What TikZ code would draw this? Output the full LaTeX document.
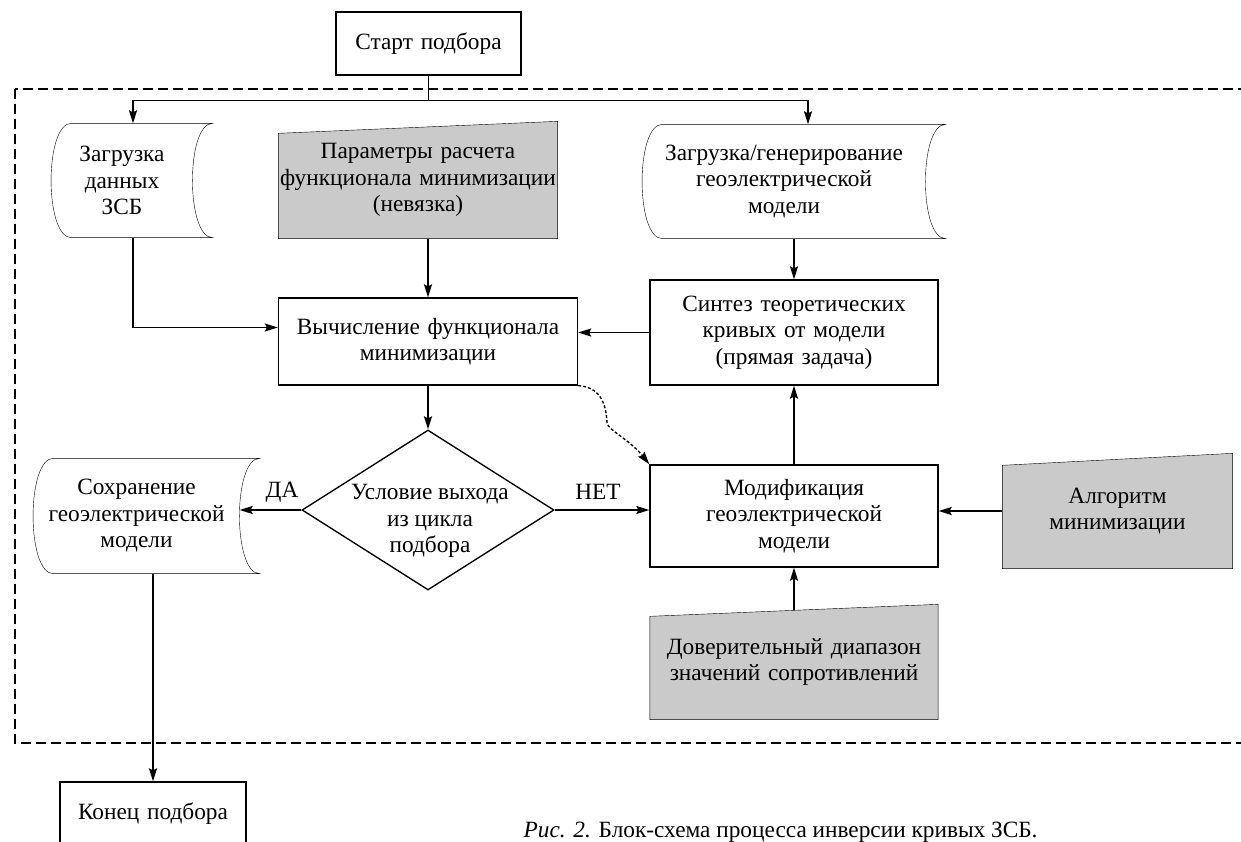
\documentclass[tikz,border=0pt]{standalone}
\usepackage{fontspec}
\setmainfont{Liberation Serif}
\usetikzlibrary{arrows.meta,shapes.geometric,backgrounds}
\definecolor{Shade}{HTML}{CACACA}

% stored data outline round a node (body = node box)
\newcommand{\storpath}[1]{%
  \draw ([xshift=20pt]#1.north west) -- ([xshift=20pt]#1.north east)
    .. controls ([xshift=-7pt]#1.north east) and ([xshift=-7pt]#1.south east) .. ([xshift=20pt]#1.south east)
    -- ([xshift=20pt]#1.south west)
    .. controls ([xshift=-7pt]#1.south west) and ([xshift=-7pt]#1.north west) .. ([xshift=20pt]#1.north west) -- cycle;}
% manual input outline (slanted top)
\newcommand{\manpath}[1]{%
  \draw[fill=Shade] (#1.south west) -- ([yshift=-12pt]#1.north west) -- (#1.north east) -- (#1.south east) -- cycle;}

\begin{document}
\begin{tikzpicture}[x=1pt,y=-1pt,
    font=\fontsize{23.3}{26.5}\selectfont, line width=1.35pt,
    blk/.style 2 args={draw,inner sep=0pt,align=center,text width=#1,minimum height=#2},
    stor/.style 2 args={inner sep=0pt,align=center,text width=#1,minimum height=#2},
    man/.style 2 args={inner sep=0pt,align=center,text width=#1,minimum height=#2},
    dia/.style={draw,diamond,inner sep=0pt,minimum width=252pt,minimum height=160pt},
    lbl/.style={inner sep=0pt,align=center},
    >={Stealth[length=13pt,width=8pt,inset=2pt]}]
  \useasboundingbox (0,0) rectangle (1241,842);
  \clip (0,0) rectangle (1241,842);
  \node[blk={185pt}{63pt}] (S) at (428.5,43.5) {Старт подбора};
  \node[stor={140pt}{113pt}] (L) at (122,180.5) {Загрузка\\данных\\ЗСБ};
  \node[man={278pt}{116pt}] (P) at (418,180) {Параметры расчета\\функционала минимизации\\(невязка)};
  \node[stor={282pt}{113pt}] (G) at (784,181.5) {Загрузка/генерирование\\геоэлектрической\\модели};
  \node[blk={299pt}{87pt}] (V) at (428,341.5) {Вычисление функционала\\минимизации};
  \node[blk={288pt}{105pt}] (Syn) at (794,332.5) {Синтез теоретических\\кривых от модели\\(прямая задача)};
  \node[dia] (D) at (428,510) {};
  \node[lbl] (Dt) at (430,521) {Условие выхода\\из цикла\\подбора};
  \node[stor={205pt}{114pt}] (Sv) at (136.5,516) {Сохранение\\геоэлектрической\\модели};
  \node[blk={288pt}{102pt}] (M) at (794,516) {Модификация\\геоэлектрической\\модели};
  \node[man={229pt}{114pt}] (A) at (1117.5,511) {Алгоритм\\минимизации};
  \node[man={287pt}{114pt}] (C) at (794,662) {Доверительный диапазон\\значений сопротивлений};
  \node[blk={186pt}{63pt}] (E) at (153,813.5) {Конец подбора};
  \node[lbl] (yes) at (282,492) {ДА};
  \node[lbl] (no) at (598,492) {НЕТ};
  \node[lbl,anchor=base west] (cap) at (523,837) {\textit{Рис. 2.} Блок-схема процесса инверсии кривых ЗСБ.};
  \coordinate (bend) at (607,423);
  \begin{scope}[on background layer]
    \storpath{L}
    \storpath{G}
    \storpath{Sv}
    \manpath{P}
    \manpath{A}
    \manpath{C}
  \end{scope}
  % loop frame
  \draw[dash pattern=on 10pt off 5pt,line width=1.1pt] (15,89) rectangle (1260,743);
  \draw[->] (S.south) -- ++(0,25) -| ([xshift=11pt]L.north);
  \draw[->] (S.south) -- ++(0,25) -| ([xshift=24pt]G.north);
  \draw[->] (P.south -| V.north) -- (V.north);
  \draw[->] (G.south -| Syn.north) -- (Syn.north);
  \draw[->] ([xshift=11pt]L.south) |- ([yshift=14pt]V.west);
  \draw[->] (Syn.west) -- (Syn.west -| V.east);
  \draw[->] (V.south) -- (D.north);
  \draw[->] (D.west) -- (D.west -| Sv.east);
  \draw[->] (D.east) -- (D.east -| M.west);
  \draw[->] (M.north) -- (Syn.south);
  \draw[->] (A.west) -- (A.west -| M.east);
  \draw[->] ([yshift=-6pt]C.north) -- (M.south);
  \draw[->] (Sv.south -| E.north) -- (E.north);
  \draw[->,dash pattern=on 3pt off 2pt] (V.south east) .. controls (598,387) and (606,400) .. (bend)
    .. controls (608,430) and (630,440) .. (M.north west);
\end{tikzpicture}
\end{document}
